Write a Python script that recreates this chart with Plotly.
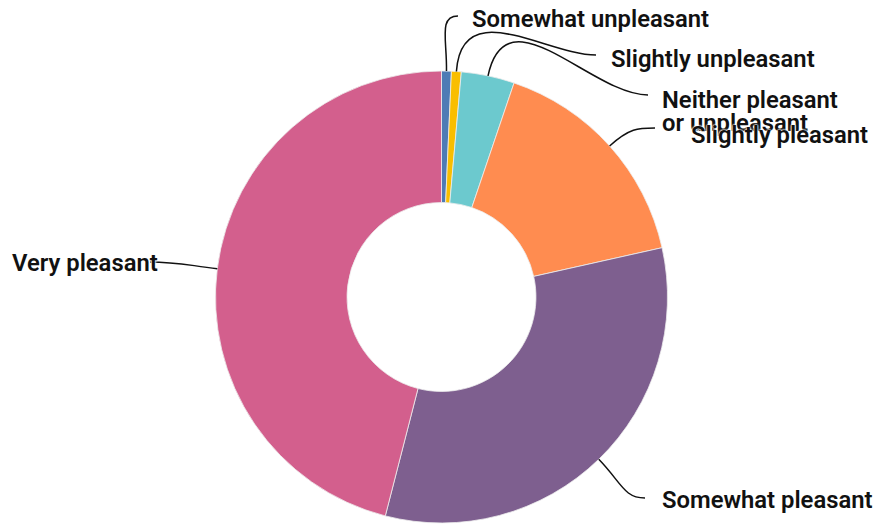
import math
import plotly.graph_objects as go

labels = ["Somewhat unpleasant", "Slightly unpleasant", "Neither pleasant<br>or unpleasant",
          "Slightly pleasant", "Somewhat pleasant", "Very pleasant"]
values = [0.7, 0.7, 3.8, 16.3, 32.5, 46.0]
colors = ["#4E7BB5", "#F9BE00", "#6CC9CE", "#FF8C50", "#7E5F8F", "#D35F8D"]

W, H = 881, 525
OFF = 8  # page body margin in screenshot
# label layout (screen pixels): text left x, first-line middle y, leader end x, leader end y, side
label_pos = [
    (470, 19, 458, 16, 1),
    (609, 59, 596, 55, 1),
    (660, 100, 648, 95, 1),
    (689, 135, 655, 128, 1),
    (660, 500, 645, 498, 1),
    (10, 263, 150, 262, -1),
]
LINE_GAP = 23

dom_x = [0, (W - 2 * OFF + 2) / W]
dom_y = [10 / H, 462 / H]
hole = 0.418

fig = go.Figure(go.Pie(
    labels=labels, values=values, sort=False, direction="clockwise", rotation=0,
    hole=hole, textinfo="none",
    marker=dict(colors=colors, line=dict(color="#eeeeee", width=0.8)),
    domain=dict(x=dom_x, y=dom_y),
    showlegend=False, hoverinfo="label+percent",
))

# pie geometry in figure pixels
cx = (dom_x[0] + dom_x[1]) / 2 * W
cy = (1 - (dom_y[0] + dom_y[1]) / 2) * H
r = min((dom_x[1] - dom_x[0]) * W, (dom_y[1] - dom_y[0]) * H) / 2

def px(x):
    return x / W

def py(y):
    return 1 - y / H

total = sum(values)
cum = 0
font = dict(family="Roboto", size=23.8, color="#111111", weight=600,
            shadow="0 0 2px white, 0 0 2px white, 0 0 2px white")
for lab, v, (tx, ty, ex, ey, side) in zip(labels, values, label_pos):
    mid = (cum + v / 2) / total * 2 * math.pi
    cum += v
    ux, uy = math.sin(mid), -math.cos(mid)
    x0, y0 = cx + r * ux, cy + r * uy
    x3, y3 = ex - OFF, ey - OFF
    d = math.hypot(x3 - x0, y3 - y0)
    x1, y1 = x0 + ux * d * 0.55, y0 + uy * d * 0.55
    x2, y2 = x3 - side * d * 0.35, y3
    path = (f"M {px(x0):.5f},{py(y0):.5f} C {px(x1):.5f},{py(y1):.5f} "
            f"{px(x2):.5f},{py(y2):.5f} {px(x3):.5f},{py(y3):.5f}")
    fig.add_shape(type="path", path=path, xref="paper", yref="paper",
                  line=dict(color="#111111", width=1.5))
    for k, line in enumerate(lab.split("<br>")):
        fig.add_annotation(text=line, x=px(tx - OFF), y=py(ty - OFF + k * LINE_GAP),
                           xref="paper", yref="paper", xanchor="left", yanchor="middle",
                           align="left", showarrow=False, font=font)

fig.update_layout(width=W, height=H, margin=dict(l=0, r=0, t=0, b=0),
                  paper_bgcolor="white", plot_bgcolor="white")
fig.write_html("out.html")
